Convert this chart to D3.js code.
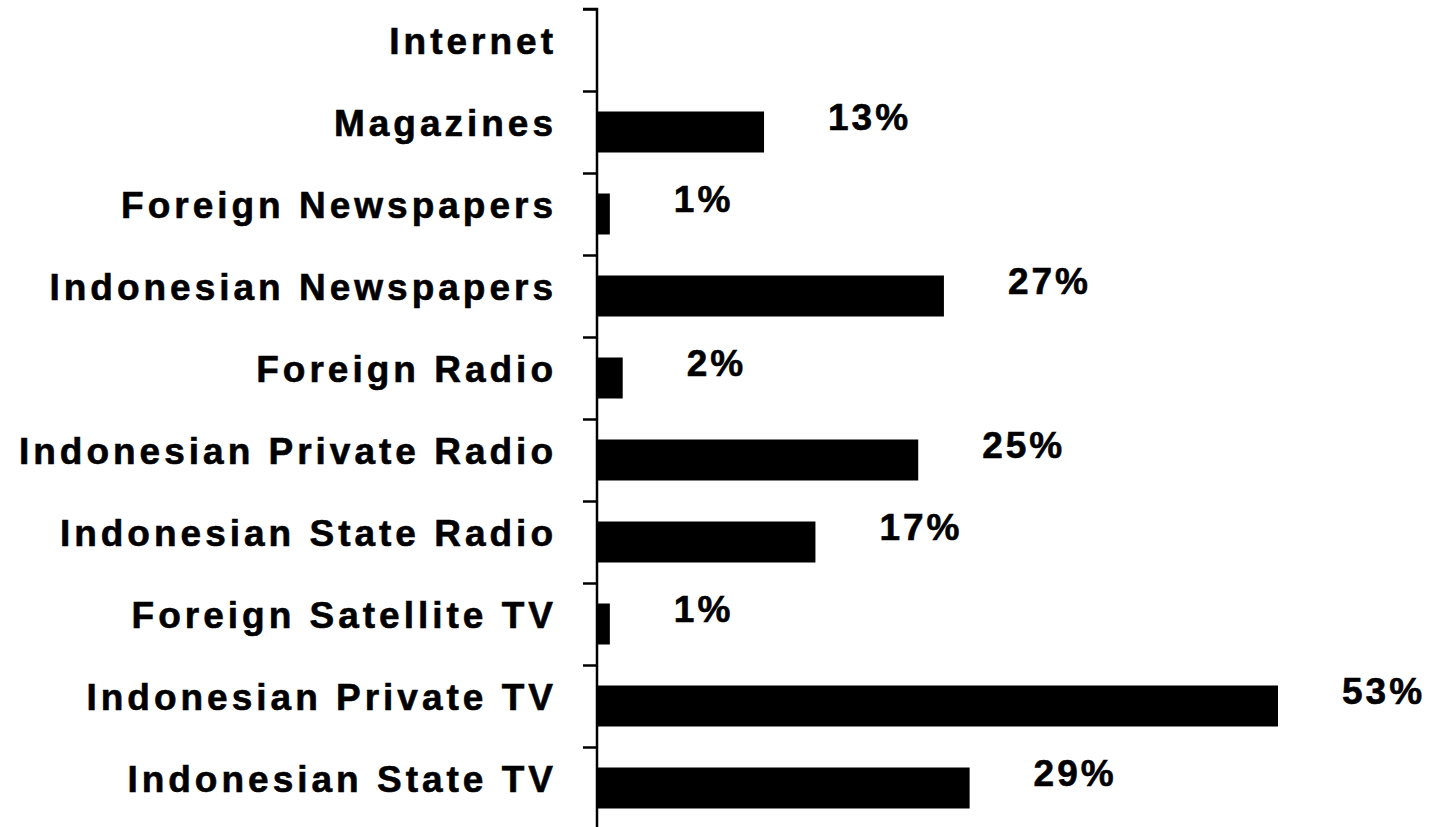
<!DOCTYPE html>
<html>
<head>
<meta charset="utf-8">
<script src="https://cdn.jsdelivr.net/npm/d3@7"></script>
<style>
  html, body { margin: 0; padding: 0; background: #fff; }
  svg { display: block; }
  text { font-family: "Liberation Sans", Arial, sans-serif; font-weight: bold; fill: #000; stroke: #000; stroke-width: 0.6px; }
</style>
</head>
<body>
<svg id="chart" width="1433" height="827"></svg>
<script>
const categories = [
  "Internet",
  "Magazines",
  "Foreign Newspapers",
  "Indonesian Newspapers",
  "Foreign Radio",
  "Indonesian Private Radio",
  "Indonesian State Radio",
  "Foreign Satellite TV",
  "Indonesian Private TV",
  "Indonesian State TV"
];
const values = [null, 13, 1, 27, 2, 25, 17, 1, 53, 29];
const valueLabels = ["", "13%", "1%", "27%", "2%", "25%", "17%", "1%", "53%", "29%"];

const W = 1433, H = 827;
const axisX = 597, plotTop = 9, step = 82;

const svg = d3.select("#chart");

const y = d3.scaleBand()
  .domain(categories)
  .range([plotTop, plotTop + step * categories.length])
  .paddingInner(0.5)
  .paddingOuter(0.25);

const x = d3.scaleLinear()
  .domain([0, 53])
  .range([axisX, 1278]);

// boundaries scale for ticks
const yb = d3.scaleLinear()
  .domain([0, categories.length])
  .range([plotTop, plotTop + step * categories.length]);

const data = categories.map((c, i) => ({ c, v: values[i], lab: valueLabels[i] }));

// bars
svg.append("g")
  .selectAll("rect")
  .data(data.filter(d => d.v != null))
  .join("rect")
  .attr("x", x(0))
  .attr("y", d => y(d.c))
  .attr("width", d => x(d.v) - x(0))
  .attr("height", y.bandwidth())
  .attr("fill", "#000");

// axis with ticks at category boundaries
const axis = d3.axisLeft(yb)
  .tickValues(d3.range(0, categories.length + 1))
  .tickSize(14)
  .tickFormat("");
const gAxis = svg.append("g")
  .attr("transform", `translate(${axisX},0)`)
  .call(axis);
gAxis.select(".domain").attr("stroke", "#000").attr("stroke-width", 2.5)
  .attr("d", `M-14,${plotTop}H0V${H}`);
gAxis.selectAll(".tick line").attr("stroke", "#000").attr("stroke-width", 2.5);

// category labels
svg.append("g")
  .selectAll("text")
  .data(data)
  .join("text")
  .attr("x", 557)
  .attr("y", d => y(d.c) + y.bandwidth() / 2 + 4)
  .attr("text-anchor", "end")
  .style("font-size", "37px")
  .style("letter-spacing", "4px")
  .text(d => d.c);

// value labels
svg.append("g")
  .selectAll("text")
  .data(data.filter(d => d.v != null))
  .join("text")
  .attr("x", d => x(d.v) + 64)
  .attr("y", d => y(d.c) + y.bandwidth() / 2 - 2)
  .attr("text-anchor", "start")
  .style("font-size", "37px")
  .style("letter-spacing", "3px")
  .text(d => d.lab);
</script>
</body>
</html>
